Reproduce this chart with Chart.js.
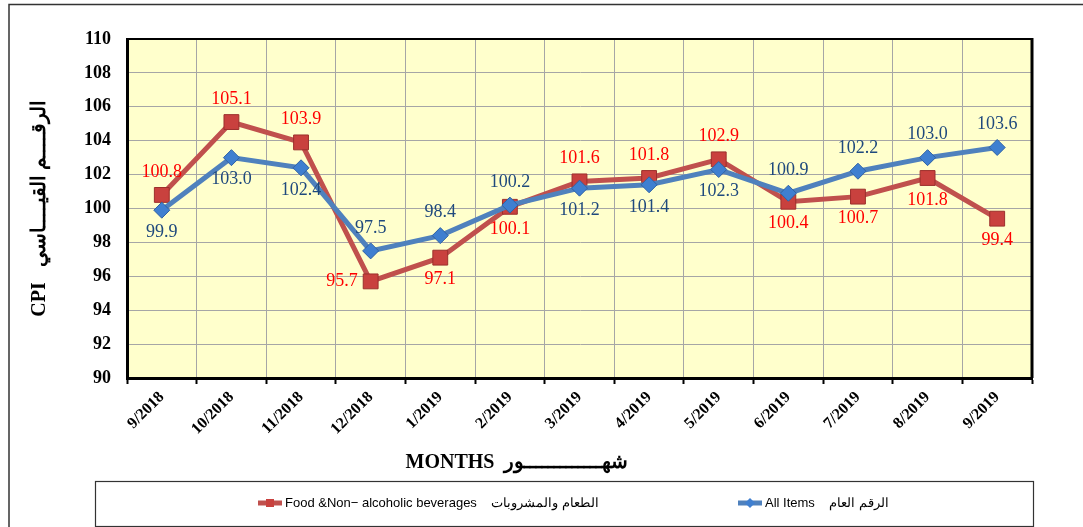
<!DOCTYPE html>
<html>
<head>
<meta charset="utf-8">
<script src="https://cdn.jsdelivr.net/npm/chart.js@4.4.0/dist/chart.umd.min.js"></script>
<style>
  body { margin: 0; background: #fff; }
</style>
</head>
<body>
<canvas id="cpiChart" width="1083" height="527"></canvas>
<script>
const months = ['9/2018', '10/2018', '11/2018', '12/2018', '1/2019', '2/2019', '3/2019',
                '4/2019', '5/2019', '6/2019', '7/2019', '8/2019', '9/2019'];
const foodValues = [100.8, 105.1, 103.9, 95.7, 97.1, 100.1, 101.6, 101.8, 102.9, 100.4, 100.7, 101.8, 99.4];
const allItemsValues = [99.9, 103.0, 102.4, 97.5, 98.4, 100.2, 101.2, 101.4, 102.3, 100.9, 102.2, 103.0, 103.6];
const yTickValues = [90, 92, 94, 96, 98, 100, 102, 104, 106, 108, 110];

// where each value label sits relative to its point
const foodLabelPos = ['up', 'up', 'up', 'left', 'down', 'down', 'up', 'up', 'up', 'down', 'down', 'down', 'down'];
const allLabelPos = ['down', 'down', 'down', 'up', 'up', 'up', 'down', 'down', 'down', 'up', 'up', 'up', 'up'];

const serif = '"Liberation Serif", "Times New Roman", serif';
const sans = '"Liberation Sans", Arial, sans-serif';

// white page, outer frame and yellow plot background
const background = {
  id: 'background',
  beforeDraw(chart) {
    const { ctx, chartArea: a } = chart;
    ctx.save();
    ctx.fillStyle = '#fff';
    ctx.fillRect(0, 0, chart.width, chart.height);
    ctx.strokeStyle = '#333';
    ctx.lineWidth = 1.5;
    ctx.beginPath();
    ctx.moveTo(9, chart.height);
    ctx.lineTo(9, 4.5);
    ctx.lineTo(chart.width, 4.5);
    ctx.stroke();
    ctx.fillStyle = '#ffffcc';
    ctx.fillRect(a.left, a.top, a.right - a.left, a.bottom - a.top);
    ctx.restore();
  }
};

const valueLabels = {
  id: 'valueLabels',
  afterDatasetsDraw(chart) {
    const ctx = chart.ctx;
    chart.data.datasets.forEach((ds, i) => {
      const meta = chart.getDatasetMeta(i);
      ctx.save();
      ctx.font = '18px ' + serif;
      ctx.fillStyle = ds.labelColor;
      ctx.textBaseline = 'middle';
      meta.data.forEach((pt, j) => {
        let x = pt.x, y = pt.y;
        ctx.textAlign = 'center';
        if (ds.labelPos[j] === 'up') y -= 23;
        else if (ds.labelPos[j] === 'down') y += 22;
        else { ctx.textAlign = 'right'; x -= 13; }
        ctx.fillText(ds.data[j].toFixed(1), x, y);
      });
      ctx.restore();
    });
  }
};

// plot frame, x title and the boxed legend underneath
const extras = {
  id: 'extras',
  afterDraw(chart) {
    const { ctx, chartArea: a } = chart;
    ctx.save();
    ctx.strokeStyle = '#000';
    ctx.lineWidth = 2;
    ctx.beginPath();
    ctx.moveTo(a.left, a.top);
    ctx.lineTo(a.right, a.top);
    ctx.stroke();
    ctx.lineWidth = 3;
    ctx.beginPath();
    ctx.moveTo(a.right, a.top - 1);
    ctx.lineTo(a.right, a.bottom);
    ctx.stroke();

    ctx.fillStyle = '#000';
    ctx.font = 'bold 20px ' + serif;
    ctx.textAlign = 'center';
    ctx.textBaseline = 'middle';
    ctx.fillText('MONTHS  شهـــــــــــــور', a.left + 390, 463);

    const boxL = a.left - 32, boxR = a.right + 1, boxT = 481, boxB = 526;
    ctx.strokeStyle = '#333';
    ctx.lineWidth = 1.2;
    ctx.strokeRect(boxL + 0.5, boxT + 0.5, boxR - boxL, boxB - boxT);

    const itemX = [boxL + 163, boxL + 643];
    const ly = 503;
    chart.data.datasets.forEach((ds, i) => {
      const x = itemX[i];
      ctx.strokeStyle = ds.borderColor;
      ctx.lineWidth = 5;
      ctx.beginPath();
      ctx.moveTo(x, ly);
      ctx.lineTo(x + 24, ly);
      ctx.stroke();
      ctx.fillStyle = ds.pointBackgroundColor;
      ctx.beginPath();
      if (ds.pointStyle === 'rect') {
        ctx.rect(x + 8, ly - 4, 8, 8);
      } else {
        ctx.moveTo(x + 12, ly - 5);
        ctx.lineTo(x + 17, ly);
        ctx.lineTo(x + 12, ly + 5);
        ctx.lineTo(x + 7, ly);
        ctx.closePath();
      }
      ctx.fill();
      ctx.fillStyle = '#000';
      ctx.font = '13px ' + sans;
      ctx.textAlign = 'left';
      ctx.fillText(ds.label, x + 27, ly);
    });
    ctx.restore();
  }
};

new Chart(document.getElementById('cpiChart'), {
  type: 'line',
  data: {
    labels: months,
    datasets: [
      {
        label: 'Food &Non− alcoholic beverages    الطعام والمشروبات',
        data: foodValues,
        order: 1,
        borderColor: '#c0504d',
        borderWidth: 5,
        pointStyle: 'rect',
        pointRadius: 10.5,
        pointBackgroundColor: '#c9413e',
        pointBorderColor: '#9c2f2c',
        pointBorderWidth: 1,
        labelColor: '#ff0000',
        labelPos: foodLabelPos
      },
      {
        label: 'All Items    الرقم العام',
        data: allItemsValues,
        order: 0,
        borderColor: '#4f81bd',
        borderWidth: 5,
        pointStyle: 'rectRot',
        pointRadius: 8,
        pointBackgroundColor: '#3f7fd0',
        pointBorderColor: '#2f62a5',
        pointBorderWidth: 1,
        labelColor: '#1f497d',
        labelPos: allLabelPos
      }
    ]
  },
  options: {
    responsive: false,
    animation: false,
    events: [],
    layout: { padding: { top: 39, right: 51, bottom: 0, left: 0 } },
    plugins: {
      legend: { display: false },
      tooltip: { enabled: false }
    },
    elements: { line: { tension: 0 } },
    scales: {
      x: {
        offset: true,
        afterFit: s => { s.height = 149; },
        grid: {
          offset: true,
          color: '#a6a6a6',
          lineWidth: 1,
          drawTicks: true,
          tickLength: 6,
          tickColor: '#000',
          tickWidth: 2
        },
        border: { color: '#000', width: 3 },
        ticks: {
          autoSkip: false,
          minRotation: 45,
          maxRotation: 45,
          padding: 4,
          color: '#000',
          font: { family: serif, size: 16, weight: 'bold' }
        }
      },
      y: {
        min: 90,
        max: 110,
        afterFit: s => { s.width = 127; },
        afterBuildTicks: s => { s.ticks = yTickValues.map(v => ({ value: v })); },
        grid: { color: '#a6a6a6', lineWidth: 1, drawTicks: false },
        border: { color: '#000', width: 3 },
        ticks: {
          padding: 16,
          color: '#000',
          font: { family: serif, size: 18, weight: 'bold' }
        },
        title: {
          display: true,
          text: 'CPI   الرقــــم القيــــاسي',
          color: '#000',
          padding: { top: 28, bottom: 0 },
          font: { family: serif, size: 20, weight: 'bold' }
        }
      }
    }
  },
  plugins: [background, valueLabels, extras]
});
</script>
</body>
</html>
